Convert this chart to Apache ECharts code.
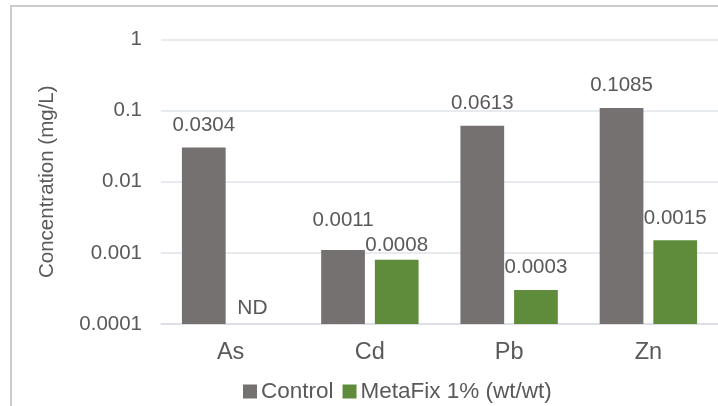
<!DOCTYPE html>
<html>
<head>
<meta charset="utf-8">
<script src="https://cdn.jsdelivr.net/npm/echarts@6/dist/echarts.min.js"></script>
<style>
html,body{margin:0;padding:0;background:#fff;}
#c{width:718px;height:406px;}
</style>
</head>
<body>
<div id="c"></div>
<script>
const categories = ['As', 'Cd', 'Pb', 'Zn'];
const seriesNames = ['Control', 'MetaFix 1% (wt/wt)'];
const controlValues = [0.0304, 0.0011, 0.0613, 0.1085];
const metafixValues = [null, 0.0008, 0.0003, 0.0015]; // null = not detected
const controlLabels = ['0.0304', '0.0011', '0.0613', '0.1085'];
const metafixLabels = ['ND', '0.0008', '0.0003', '0.0015'];
const yTickValues = [0.0001, 0.001, 0.01, 0.1, 1];
const yTickLabels = ['0.0001', '0.001', '0.01', '0.1', '1'];
const yAxisTitle = 'Concentration (mg/L)';

const FONT = '"Liberation Sans", Arial, sans-serif';
const TXT = '#595959';
const COLORS = ['#767171', '#5E8C3B'];
const yMin = yTickValues[0], yMax = yTickValues[yTickValues.length - 1];

function tickLabel(v) {
  const idx = yTickValues.findIndex(t => Math.abs(Math.log10(t) - Math.log10(v)) < 1e-6);
  return idx >= 0 ? yTickLabels[idx] : '';
}

// label spacing above bars (Cd labels nudged apart as in the original)
function labelDistance(si, cat) {
  if (cat === 'Cd') return si === 0 ? 19 : 4;
  return 12;
}

function makeRender(si, labels) {
  return function (params, api) {
    const ci = api.value(0);
    const val = api.value(1);
    const nd = api.value(2) === 1;
    const base = api.coord([ci, yMin]);
    const bw = api.size([1, 0])[0];
    const barW = bw * 0.314;
    const gap = bw * 0.0714;
    const x = si === 0 ? base[0] - gap / 2 - barW : base[0] + gap / 2;
    const children = [];
    if (nd) {
      children.push({
        type: 'text',
        style: {
          text: labels[ci], x: x + barW / 2 - 5, y: base[1] - 5,
          align: 'center', verticalAlign: 'bottom',
          fill: TXT, font: '21px ' + FONT
        }
      });
    } else {
      const top = api.coord([ci, val]);
      children.push({
        type: 'rect',
        shape: { x: x, y: top[1], width: barW, height: base[1] - top[1] },
        style: { fill: COLORS[si] }
      });
      children.push({
        type: 'text',
        style: {
          text: labels[ci], x: x + barW / 2, y: top[1] - labelDistance(si, categories[ci]),
          align: 'center', verticalAlign: 'bottom',
          fill: TXT, font: '20.5px ' + FONT
        }
      });
    }
    return { type: 'group', children: children };
  };
}

const controlData = controlValues.map((v, i) => [i, v, 0]);
const metafixData = metafixValues.map((v, i) => [i, v === null ? yMin : v, v === null ? 1 : 0]);

const chart = echarts.init(document.getElementById('c'), null, { renderer: 'canvas' });
chart.setOption({
  animation: false,
  backgroundColor: '#ffffff',
  textStyle: { fontFamily: FONT },
  graphic: [{
    type: 'rect',
    shape: { x: 11, y: 6, width: 900, height: 600 },
    style: { fill: 'none', stroke: '#cccccc', lineWidth: 2 },
    silent: true, z: 100
  }],
  grid: { left: 161, right: -3, top: 39.5, bottom: 82, containLabel: false },
  legend: {
    data: seriesNames,
    left: 238, top: 375,
    itemWidth: 14, itemHeight: 14, itemGap: 9,
    icon: 'rect',
    textStyle: { color: TXT, fontSize: 22.5, fontFamily: FONT, padding: [0, 0, 0, -1] }
  },
  xAxis: {
    type: 'category',
    data: categories,
    axisLine: { show: true, lineStyle: { color: '#d9dde3', width: 1.5 } },
    axisTick: { show: false },
    axisLabel: { color: TXT, fontSize: 23.5, fontFamily: FONT, margin: 17 }
  },
  yAxis: {
    type: 'log',
    logBase: 10,
    min: yMin, max: yMax,
    name: yAxisTitle,
    nameLocation: 'middle',
    nameGap: 103,
    nameTextStyle: { color: TXT, fontSize: 20.5, fontFamily: FONT },
    axisLine: { show: false },
    axisTick: { show: false },
    splitLine: { show: true, lineStyle: { color: '#dfe3e8', width: 1.5 } },
    axisLabel: { color: TXT, fontSize: 20.5, fontFamily: FONT, margin: 19, formatter: tickLabel }
  },
  series: [
    {
      name: seriesNames[0], type: 'custom', data: controlData,
      encode: { x: 0, y: 1 },
      itemStyle: { color: COLORS[0] },
      renderItem: makeRender(0, controlLabels)
    },
    {
      name: seriesNames[1], type: 'custom', data: metafixData,
      encode: { x: 0, y: 1 },
      itemStyle: { color: COLORS[1] },
      renderItem: makeRender(1, metafixLabels)
    }
  ]
});
</script>
</body>
</html>
